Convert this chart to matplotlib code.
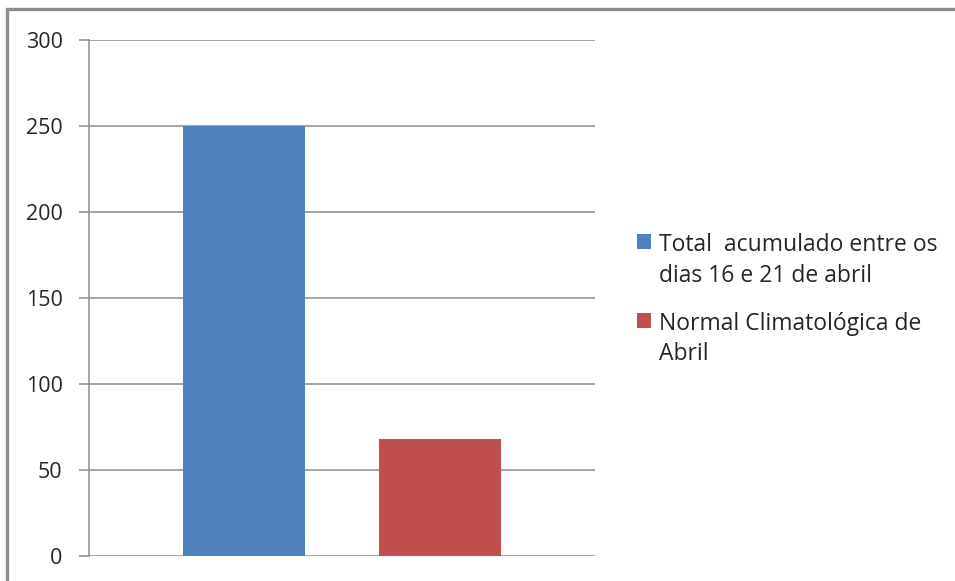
import matplotlib.pyplot as plt
import matplotlib.patches as patches
from matplotlib.legend_handler import HandlerPatch

# values
series = ["Total  acumulado entre os\ndias 16 e 21 de abril", "Normal Climatológica de\nAbril"]
values = [250, 68]
colors = ["#4f81bd", "#c0504d"]
yticks = [0, 50, 100, 150, 200, 250, 300]

plt.rcParams['font.family'] = ['Open Sans', 'DejaVu Sans']


def top_square(legend, orig_handle, xdescent, ydescent, width, height, fontsize):
    # keep the legend square level with the first line of a two-line label
    return patches.Rectangle((-xdescent, -ydescent + 0.85 * fontsize), width, height)


fig = plt.figure(figsize=(9.55, 5.81), dpi=100)
ax = fig.add_axes([0.0932, 0.043, 0.5298, 0.8882])

handles = []
for i, (name, v, c) in enumerate(zip(series, values, colors)):
    b = ax.bar(i, v, width=0.622, color=c, label=name, zorder=3)
    handles.append(b.patches[0])

ax.set_xlim(-0.791, 1.791)
ax.set_ylim(0, 300)
ax.set_yticks(yticks)
ax.set_xticks([])
ax.grid(axis='y', color='#8c8c8c', linewidth=1.1, zorder=0)
for s in ['top', 'right', 'bottom']:
    ax.spines[s].set_visible(False)
ax.spines['left'].set_color('#8c8c8c')
ax.spines['left'].set_linewidth(1.1)
ax.tick_params(axis='y', length=7, width=1.1, color='#8c8c8c', labelsize=15.5,
               labelcolor='#262626', pad=12)

leg = fig.legend(handles, series, loc='upper left', bbox_to_anchor=(0.6455, 0.634),
                 frameon=False, fontsize=16.5, handlelength=0.62, handleheight=0.62,
                 handletextpad=0.35, labelspacing=1.05, labelcolor='#262626',
                 handler_map={patches.Rectangle: HandlerPatch(patch_func=top_square)})
for t in leg.get_texts():
    t.set_linespacing(1.35)

# outer chart frame like the spreadsheet chart area (right side is cut off)
frame = patches.Rectangle((0.007, -0.05), 1.05, 1.034, transform=fig.transFigure,
                          fill=False, edgecolor='#8c8c8c', linewidth=2.4, clip_on=False)
fig.patches.append(frame)

fig.savefig("out.png", dpi=100)
